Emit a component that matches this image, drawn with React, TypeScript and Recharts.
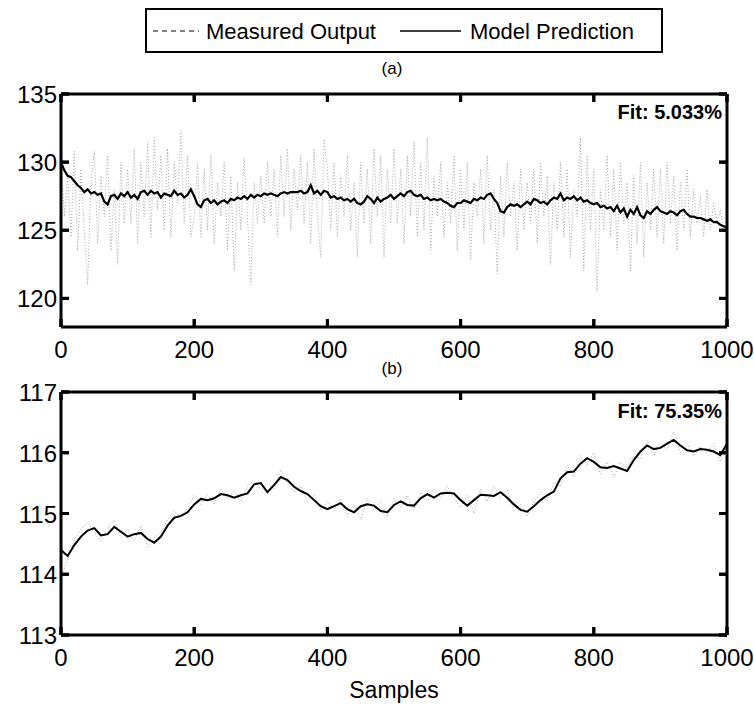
import React from 'react';
import { LineChart, Line, XAxis, YAxis, ReferenceLine } from 'recharts';

// ---------- DATA ----------
const sampleTicks = [0, 200, 400, 600, 800, 1000];
const topYTicks = [120, 125, 130, 135];
const botYTicks = [113, 114, 115, 116, 117];
const topDomain: [number, number] = [117.9, 135];
const botDomain: [number, number] = [113, 117];
const xDomain: [number, number] = [0, 1000];
const topFitLabel = 'Fit: 5.033%';
const botFitLabel = 'Fit: 75.35%';
const seriesNames = ['Measured Output', 'Model Prediction'];
const topStep = 5;
const botStep = 10;

// (a) measured output, samples 0..1000 every 5
const topMeasured = [
  130.5, 126, 129, 124.5, 130.8, 123.5, 129.5, 125, 121, 128.5, 130.8, 124, 129, 126, 130.5, 123.5, 128, 122.5, 130, 125.5,
  129.5, 125.5, 131, 124, 130, 126, 131.5, 124.5, 131.8, 126.5, 130.5, 125, 131, 124.5, 130, 127, 132.3, 125.5, 130.5, 124.5,
  126, 130, 124.5, 129.5, 125, 130.5, 124, 128.5, 126, 130, 123.5, 129, 122, 128.5, 125, 130.3, 126, 121, 128.5, 125.5,
  129, 125.5, 130, 126, 129.5, 124.5, 130.5, 126, 131, 125, 129.5, 126.5, 130.5, 125.5, 130, 124, 131, 126, 123, 131.7,
  129.5, 125, 130, 124.5, 129, 126, 130.5, 125, 128.5, 123, 130, 125.5, 129.5, 124, 131, 126, 130.5, 123, 129.5, 125.5,
  131, 125.5, 129.5, 124, 130.5, 126, 131.5, 124.5, 130, 125, 131.8, 123.5, 129, 126, 130, 124.5, 128.5, 125.5, 130.5, 123.5,
  129.5, 125, 130, 122.8, 128.5, 126, 129.5, 124, 130.5, 125, 128, 121.8, 129, 124.5, 130, 126, 128.5, 123.5, 129.5, 125,
  128.5, 125.5, 129.5, 124, 130, 126, 129, 122.5, 128.5, 125, 130, 124.5, 129.5, 123, 128, 126, 131.8, 122, 130.5, 125,
  129.5, 120.5, 128, 125, 130.5, 124.5, 129.5, 123.5, 130, 125.5, 128.5, 122, 129, 124, 130, 123, 128.5, 125, 129.5, 124.5,
  129.5, 124, 130, 125.5, 129, 123.5, 128.5, 125, 129.5, 124.5, 128, 125.5, 127.5, 124.5, 128, 125, 127, 125.5, 126.5, 125,
  125.2,
];

// (a) model prediction, samples 0..1000 every 5
const topPredicted = [
  130.0, 129.4, 129.0, 128.9, 128.6, 128.3, 128.1, 127.8, 128.0, 127.7, 127.8, 127.6, 127.7, 127.1, 126.9, 127.5, 127.6, 127.3, 127.7, 127.5,
  127.8, 127.4, 127.6, 127.3, 127.8, 127.9, 127.6, 127.9, 127.7, 127.8, 127.4, 127.7, 127.6, 127.5, 127.9, 127.6, 127.7, 127.4, 127.6, 128.0,
  127.5, 126.9, 126.7, 127.2, 127.3, 127.0, 127.2, 126.9, 127.1, 127.2, 127.0, 127.3, 127.2, 127.4, 127.3, 127.5, 127.3, 127.6, 127.4, 127.6,
  127.5, 127.7, 127.6, 127.7, 127.6, 127.5, 127.7, 127.8, 127.7, 127.8, 127.8, 127.8, 127.9, 127.7, 127.8, 128.3, 127.7, 127.9, 127.6, 127.9,
  127.8, 127.4, 127.5, 127.3, 127.4, 127.2, 127.3, 127.1, 127.3, 127.0, 126.9, 127.1, 127.5, 127.3, 127.0, 127.4, 127.1, 127.3, 127.4, 127.6,
  127.3, 127.5, 127.7, 127.5, 127.8, 127.9, 127.6, 127.5, 127.6, 127.3, 127.4, 127.2, 127.3, 127.2, 127.3, 127.1, 127.0, 126.8, 126.7, 127.0,
  127.0, 127.2, 127.1, 127.0, 127.3, 127.2, 127.4, 127.3, 127.6, 127.7, 127.3, 127.0, 126.4, 126.3, 126.7, 126.9, 126.8, 126.9, 126.7, 126.9,
  127.1, 126.9, 127.3, 127.2, 127.0, 127.1, 126.9, 127.2, 127.4, 127.3, 127.7, 127.2, 127.4, 127.3, 127.5, 127.2, 127.4, 127.1, 127.2, 127.0,
  126.9, 127.0, 126.7, 126.8, 126.6, 126.7, 126.4, 126.8, 126.3, 126.6, 126.0, 126.5, 126.2, 126.7, 126.1, 125.9, 126.4, 126.2, 126.5, 126.7,
  126.4, 126.3, 126.2, 126.4, 126.3, 126.1, 126.4, 126.5, 126.2, 126.0, 126.0, 125.9, 125.9, 125.8, 125.7, 125.8, 125.6, 125.6, 125.4, 125.3,
  125.2,
];

// (b) measured output, samples 0..1000 every 10
const botMeasured = [
  113.95, 114.25, 114.55, 114.75, 114.85, 114.7, 114.55, 114.75, 114.9, 114.6,
  114.75, 114.55, 114.8, 114.45, 114.6, 114.7, 114.9, 115.05, 114.9, 115.1,
  115.3, 115.15, 115.3, 115.15, 115.4, 115.25, 115.38, 115.2, 115.45, 115.55,
  115.4, 115.5, 115.4, 115.72, 115.5, 115.35, 115.45, 115.2, 115.3, 115.05,
  115.2, 115.05, 115.25, 114.95, 115.15, 114.9, 115.25, 115.05, 115.2, 114.95,
  115.25, 115.1, 115.3, 115.05, 115.35, 115.2, 115.4, 115.25, 115.45, 115.25,
  115.1, 115.3, 115.0, 115.4, 115.2, 115.45, 115.25, 115.4, 115.05, 115.15,
  114.95, 115.2, 115.35, 115.2, 115.5, 115.45, 115.8, 115.6, 115.95, 115.8,
  116.0, 115.65, 115.85, 115.6, 115.85, 115.75, 115.95, 115.9, 116.2, 115.95,
  116.15, 116.05, 116.35, 116.0, 116.15, 115.95, 116.1, 116.0, 116.15, 115.85,
  116.1,
];

// (b) model prediction, samples 0..1000 every 10
const botPredicted = [
  114.40, 114.30, 114.48, 114.62, 114.72, 114.76, 114.64, 114.66, 114.78, 114.70,
  114.62, 114.66, 114.68, 114.58, 114.52, 114.62, 114.80, 114.93, 114.96, 115.02,
  115.15, 115.24, 115.22, 115.25, 115.32, 115.30, 115.26, 115.30, 115.33, 115.48,
  115.50, 115.35, 115.47, 115.60, 115.55, 115.44, 115.37, 115.32, 115.22, 115.12,
  115.07, 115.12, 115.17, 115.07, 115.02, 115.12, 115.15, 115.13, 115.04, 115.02,
  115.14, 115.20, 115.14, 115.13, 115.25, 115.32, 115.26, 115.33, 115.34, 115.33,
  115.22, 115.13, 115.22, 115.31, 115.30, 115.29, 115.35, 115.26, 115.15, 115.06,
  115.03, 115.12, 115.22, 115.30, 115.36, 115.58, 115.68, 115.69, 115.82, 115.91,
  115.85, 115.76, 115.75, 115.78, 115.74, 115.70, 115.88, 116.02, 116.12, 116.06,
  116.08, 116.15, 116.21, 116.12, 116.04, 116.02, 116.06, 116.05, 116.02, 115.96,
  116.15,
];

const topData = topMeasured.map((m, i) => ({ x: i * topStep, m, p: topPredicted[i] }));
const botData = botMeasured.map((m, i) => ({ x: i * botStep, m, p: botPredicted[i] }));

// ---------- LAYOUT ----------
const FONT = 'Arimo, "Liberation Sans", Arial, Helvetica, sans-serif';
const W = 754;
const PLOT_L = 61;
const PLOT_R = 727;
const A_TOP = 94;
const A_BOT = 327;
const B_CHART_TOP = 360;
const B_TOP = 392;
const B_BOT = 635;
const TICK_PX = 8;
const TICK_FONT = 24;

const makeXTick = (top: number, bottom: number) => (props: any) => {
  const { x, payload } = props;
  return (
    <g>
      <rect x={x - 1.5} y={bottom - TICK_PX} width={3} height={TICK_PX} fill="#000" />
      <rect x={x - 1.5} y={top} width={3} height={TICK_PX} fill="#000" />
      <text x={x} y={bottom + 31} textAnchor="middle" fontSize={TICK_FONT} fontFamily={FONT} fill="#000">
        {payload.value}
      </text>
    </g>
  );
};

const yTick = (props: any) => {
  const { y, payload } = props;
  return (
    <g>
      <rect x={PLOT_L} y={y - 1.5} width={TICK_PX} height={3} fill="#000" />
      <rect x={PLOT_R - TICK_PX} y={y - 1.5} width={TICK_PX} height={3} fill="#000" />
      <text x={PLOT_L - 4} y={y + 9} textAnchor="end" fontSize={TICK_FONT} fontFamily={FONT} fill="#000">
        {payload.value}
      </text>
    </g>
  );
};

// frame + inward tick marks (MATLAB box style) as reference segments
function frameAndTicks(yTicks: number[], yDom: [number, number], plotHeight: number, keyPrefix: string) {
  const plotWidth = PLOT_R - PLOT_L;
  const dx = (TICK_PX * (xDomain[1] - xDomain[0])) / plotWidth;
  const dy = (TICK_PX * (yDom[1] - yDom[0])) / plotHeight;
  const common = { stroke: '#000', strokeWidth: 3, ifOverflow: 'visible' as const };
  const out: React.ReactNode[] = [
    <ReferenceLine key={`${keyPrefix}fl`} x={xDomain[0]} {...common} />,
    <ReferenceLine key={`${keyPrefix}fr`} x={xDomain[1]} {...common} />,
    <ReferenceLine key={`${keyPrefix}fb`} y={yDom[0]} {...common} />,
    <ReferenceLine key={`${keyPrefix}ft`} y={yDom[1]} {...common} />,
  ];
  sampleTicks.forEach((t) => {
    out.push(
      <ReferenceLine key={`${keyPrefix}xb${t}`} segment={[{ x: t, y: yDom[0] }, { x: t, y: yDom[0] + dy }]} {...common} />,
      <ReferenceLine key={`${keyPrefix}xt${t}`} segment={[{ x: t, y: yDom[1] }, { x: t, y: yDom[1] - dy }]} {...common} />
    );
  });
  yTicks.forEach((v) => {
    out.push(
      <ReferenceLine key={`${keyPrefix}yl${v}`} segment={[{ x: xDomain[0], y: v }, { x: xDomain[0] + dx, y: v }]} {...common} />,
      <ReferenceLine key={`${keyPrefix}yr${v}`} segment={[{ x: xDomain[1], y: v }, { x: xDomain[1] - dx, y: v }]} {...common} />
    );
  });
  return out;
}

export default function App() {
  const chartAHeight = 385;
  const chartBHeight = 345;
  return (
    <div style={{ position: 'absolute', left: 0, top: 0, width: W, height: 705, background: '#fff', overflow: 'hidden' }}>
      <div style={{ position: 'absolute', left: 0, top: 0 }}>
        <LineChart
          width={W}
          height={chartAHeight}
          data={topData}
          margin={{ top: A_TOP, right: W - PLOT_R, bottom: chartAHeight - A_BOT - 30, left: 0 }}
        >
          <XAxis
            dataKey="x"
            type="number"
            domain={xDomain}
            ticks={sampleTicks}
            axisLine={false}
            tickLine={false}
            tickSize={0}
            height={30}
            interval={0}
            tick={makeXTick(A_TOP, A_BOT)}
          />
          <YAxis
            type="number"
            domain={topDomain}
            allowDataOverflow
            ticks={topYTicks}
            axisLine={false}
            tickLine={false}
            tickSize={0}
            width={PLOT_L}
            interval={0}
            tick={yTick}
          />
          <Line
            type="linear"
            dataKey="m"
            stroke="#a8a8a8"
            strokeWidth={1}
            strokeDasharray="1 2"
            dot={false}
            isAnimationActive={false}
          />
          <Line
            type="linear"
            dataKey="p"
            stroke="#000"
            strokeWidth={2.2}
            dot={false}
            isAnimationActive={false}
          />
          {frameAndTicks(topYTicks, topDomain, A_BOT - A_TOP, 'a')}
        </LineChart>
      </div>

      <div style={{ position: 'absolute', left: 0, top: B_CHART_TOP }}>
        <LineChart
          width={W}
          height={chartBHeight}
          data={botData}
          margin={{
            top: B_TOP - B_CHART_TOP,
            right: W - PLOT_R,
            bottom: chartBHeight - (B_BOT - B_CHART_TOP) - 30,
            left: 0,
          }}
        >
          <XAxis
            dataKey="x"
            type="number"
            domain={xDomain}
            ticks={sampleTicks}
            axisLine={false}
            tickLine={false}
            tickSize={0}
            height={30}
            interval={0}
            tick={makeXTick(B_TOP - B_CHART_TOP, B_BOT - B_CHART_TOP)}
          />
          <YAxis
            type="number"
            domain={botDomain}
            allowDataOverflow
            ticks={botYTicks}
            axisLine={false}
            tickLine={false}
            tickSize={0}
            width={PLOT_L}
            interval={0}
            tick={yTick}
          />
          <Line
            type="linear"
            dataKey="m"
            stroke="#a8a8a8"
            strokeWidth={1}
            strokeDasharray="1 2"
            dot={false}
            isAnimationActive={false}
          />
          <Line
            type="linear"
            dataKey="p"
            stroke="#000"
            strokeWidth={2}
            dot={false}
            isAnimationActive={false}
          />
          {frameAndTicks(botYTicks, botDomain, B_BOT - B_TOP, 'b')}
        </LineChart>
      </div>

      <svg
        width={W}
        height={705}
        style={{ position: 'absolute', left: 0, top: 0, pointerEvents: 'none' }}
        fontFamily={FONT}
      >
        {/* legend */}
        <rect x={146} y={9} width={516} height={43} fill="#fff" stroke="#000" strokeWidth={2} />
        <line x1={153} x2={199} y1={31} y2={31} stroke="#000" strokeWidth={1.2} strokeDasharray="5 4" />
        <text x={206} y={39} fontSize={22} fill="#000">{seriesNames[0]}</text>
        <line x1={400} x2={461} y1={31} y2={31} stroke="#000" strokeWidth={1.5} />
        <text x={470} y={39} fontSize={22} fill="#000">{seriesNames[1]}</text>

        <text x={392} y={74} fontSize={17} textAnchor="middle" fill="#000">(a)</text>
        <text x={392} y={374} fontSize={17} textAnchor="middle" fill="#000">(b)</text>

        <text x={722} y={119} fontSize={20} fontWeight="bold" textAnchor="end" fill="#000">{topFitLabel}</text>
        <text x={722} y={418} fontSize={20} fontWeight="bold" textAnchor="end" fill="#000">{botFitLabel}</text>

        <text x={394} y={698} fontSize={23} textAnchor="middle" fill="#000">Samples</text>
      </svg>
    </div>
  );
}
